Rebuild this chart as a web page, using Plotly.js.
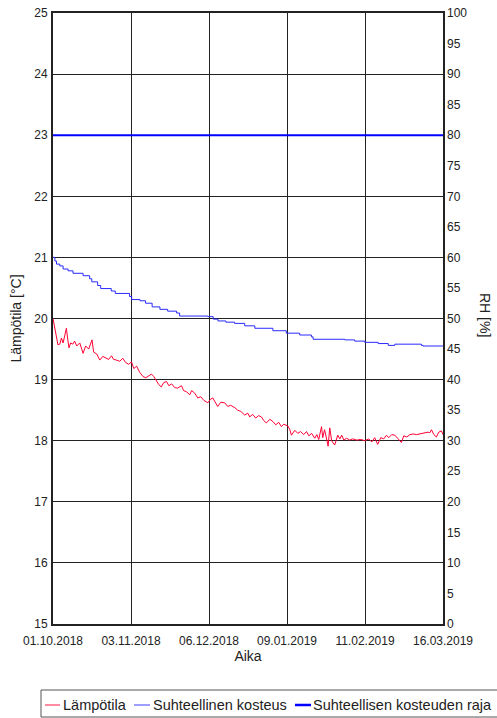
<!DOCTYPE html>
<html>
<head>
<meta charset="utf-8">
<script src="https://cdn.plot.ly/plotly-3.0.1.min.js"></script>
<style>html,body{margin:0;padding:0;background:#fff}#chart{width:497px;height:718px}</style>
</head>
<body>
<div id="chart"></div>
<script>
// ---- data ----
const startDate = '2018-10-01';
const endDate = '2019-03-16';
const xTickLabels = ['01.10.2018','03.11.2018','06.12.2018','09.01.2019','11.02.2019','16.03.2019'];
const seriesNames = ['Lämpötila','Suhteellinen kosteus','Suhteellisen kosteuden raja'];

// temperature: day offset from start, value in °C
const tempDays = [0,1.1,2.1,2.9,3.6,4.3,5.0,5.7,6.3,6.8,7.5,8.4,9.2,10.1,11.4,12.8,13.9,15.2,16.6,17.3,18.6,19.9,21.2,22.4,23.7,24.9,25.8,27.0,28.4,29.7,30.9,32.2,33.4,34.4,35.6,36.9,38.3,39.5,40.7,41.9,42.9,44.1,45.0,46.1,47.1,48.3,49.3,50.5,51.8,53.0,54.7,55.6,56.9,58.2,59.0,60.3,61.6,62.9,64.2,65.9,67.1,68.0,69.3,70.1,71.4,73.1,74.4,75.6,77.4,78.6,79.9,81.6,82.9,83.7,85.0,86.3,87.5,88.7,89.7,90.8,92.3,93.7,94.8,96.1,97.2,98.2,100.0,100.8,101.5,102.9,104.2,105.4,106.7,107.9,108.9,110.1,111.4,112.3,113.1,114.3,114.8,115.6,117.1,117.8,118.6,119.9,121.2,122.1,122.9,123.8,125.0,126.3,127.6,129.3,131.0,132.7,134.4,135.7,136.9,138.2,139.5,140.8,141.9,142.9,144.2,145.5,146.7,148.3,149.3,150.6,151.9,153.3,154.8,156.5,158.2,159.6,160.4,161.1,162.1,163.2,164.2,165.3,166.0];
const tempValues = [20.00,19.75,19.57,19.58,19.68,19.60,19.72,19.84,19.65,19.52,19.60,19.58,19.63,19.55,19.60,19.43,19.55,19.50,19.65,19.45,19.42,19.32,19.38,19.36,19.33,19.39,19.33,19.32,19.30,19.35,19.28,19.25,19.29,19.18,19.22,19.12,19.05,19.03,19.06,19.09,19.05,18.97,18.92,18.88,18.95,18.97,18.90,18.93,18.87,18.86,18.90,18.82,18.80,18.75,18.82,18.78,18.70,18.72,18.66,18.62,18.68,18.70,18.62,18.56,18.63,18.62,18.56,18.58,18.54,18.50,18.48,18.42,18.45,18.39,18.43,18.37,18.41,18.39,18.33,18.29,18.35,18.31,18.26,18.30,18.23,18.27,18.24,18.18,18.09,18.17,18.12,18.15,18.10,18.15,18.08,18.12,18.04,18.10,18.02,18.23,18.05,18.18,17.91,18.21,18.00,17.93,18.09,18.03,18.09,18.01,18.04,18.01,18.03,18.01,18.02,18.00,18.03,17.98,18.05,17.94,18.05,18.03,18.09,18.05,18.10,18.09,18.04,17.97,18.08,18.06,18.10,18.11,18.10,18.11,18.12,18.14,18.13,18.18,18.10,18.06,18.14,18.16,18.10];

// relative humidity (stepped), day offset and %
const rhDays = [0,0.8,1.5,2.9,4.3,6.4,8.5,12.8,15.6,16.5,19.0,20.3,24.8,26.5,32.6,33.5,37.0,39.4,42.2,45.5,48.8,52.6,53.9,65.9,68.2,70.2,73.6,77.3,81.6,85.9,93.6,99.3,105.0,110.0,110.7,124.2,128.4,132.7,138.4,142.7,145.5,156.8,157.5,166.0];
const rhValues = [60.0,59.4,58.9,58.6,58.1,57.8,57.4,57.0,56.5,56.0,55.4,54.9,54.5,54.1,53.6,53.1,52.9,52.5,51.9,51.5,51.2,50.9,50.4,50.3,49.9,49.6,49.4,49.2,48.8,48.4,48.0,47.6,47.3,47.0,46.6,46.5,46.3,46.1,45.9,45.6,45.8,45.6,45.5,45.5];

// humidity limit
const limitDays = [0,166];
const limitValues = [80,80];

// ---- helpers ----
const DAY = 86400000;
const t0 = Date.parse(startDate + 'T00:00:00Z');
const t1 = Date.parse(endDate + 'T00:00:00Z');
const toDate = d => new Date(t0 + d * DAY).toISOString().replace('T',' ').slice(0,19);
const tickVals = xTickLabels.map((_, i) => new Date(t0 + i * (t1 - t0) / (xTickLabels.length - 1)).toISOString().replace('T',' ').slice(0,19));

const W = 497, H = 718, L = 53, R = 443, T = 13, B = 624;
const px = x => (x - L) / (R - L);
const py = y => (B - y) / (B - T);

const colors = ['#ff0033', '#2a2aff', '#0000ff'];
const FONT = 'Liberation Sans, Arial, sans-serif';
const TXT = '#222';

const traces = [
  {x: tempDays.map(toDate), y: tempValues, name: seriesNames[0], type: 'scatter', mode: 'lines',
   line: {color: colors[0], width: 1}, yaxis: 'y'},
  {x: rhDays.map(toDate), y: rhValues, name: seriesNames[1], type: 'scatter', mode: 'lines',
   line: {color: colors[1], width: 1, shape: 'hv'}, yaxis: 'y2'},
  {x: limitDays.map(toDate), y: limitValues, name: seriesNames[2], type: 'scatter', mode: 'lines',
   line: {color: colors[2], width: 2}, yaxis: 'y2'}
];

// custom legend (reference legend box is clipped at the right edge)
const legendY = 705;
const legendItems = [
  {x0: 45, x1: 60, tx: 61, w: 1.5},
  {x0: 134, x1: 150, tx: 151, w: 1.5},
  {x0: 295, x1: 311, tx: 311, w: 2.5}
];
const shapes = [
  {type: 'rect', xref: 'paper', yref: 'paper', x0: px(41), x1: px(520), y0: py(717), y1: py(690),
   line: {color: '#555', width: 1}, fillcolor: 'rgba(0,0,0,0)', layer: 'above'}
];
const annotations = [];
legendItems.forEach((it, i) => {
  shapes.push({type: 'line', xref: 'paper', yref: 'paper', x0: px(it.x0), x1: px(it.x1), y0: py(legendY), y1: py(legendY),
    line: {color: colors[i], width: it.w}, opacity: i === 2 ? 1 : 0.6});
  annotations.push({xref: 'paper', yref: 'paper', x: px(it.tx), y: py(legendY), xanchor: 'left', yanchor: 'middle',
    text: seriesNames[i], showarrow: false, font: {family: FONT, size: 14.5, color: TXT}});
});
annotations.push({xref: 'paper', yref: 'paper', x: px(485), y: py(315), xanchor: 'center', yanchor: 'middle',
  text: 'RH [%]', textangle: 90, showarrow: false, font: {family: FONT, size: 14, color: TXT}});

const layout = {
  width: W, height: H,
  margin: {l: L, r: W - R, t: T, b: H - B, pad: 0},
  paper_bgcolor: '#fff', plot_bgcolor: '#fff',
  font: {family: FONT, size: 12, color: TXT},
  showlegend: false,
  xaxis: {
    type: 'date', range: [toDate(0), toDate((t1 - t0) / DAY)],
    tickmode: 'array', tickvals: tickVals, ticktext: xTickLabels,
    showgrid: true, gridcolor: '#222', gridwidth: 1,
    showline: true, linecolor: '#222', linewidth: 2, mirror: true,
    ticks: '', zeroline: false, ticklabelstandoff: 5,
    tickfont: {family: FONT, size: 12, color: TXT},
    title: {text: 'Aika', font: {family: FONT, size: 14, color: TXT}, standoff: 4}
  },
  yaxis: {
    range: [15, 25], dtick: 1, tick0: 15,
    showgrid: true, gridcolor: '#222', gridwidth: 1,
    showline: true, linecolor: '#222', linewidth: 2, mirror: true,
    ticks: '', zeroline: false, ticklabelstandoff: 1,
    tickfont: {family: FONT, size: 12, color: TXT},
    title: {text: 'Lämpötila [°C]', font: {family: FONT, size: 14, color: TXT}, standoff: 9}
  },
  yaxis2: {
    range: [0, 100], dtick: 5, tick0: 0, overlaying: 'y', side: 'right',
    showgrid: false, showline: false, zeroline: false, ticks: '', ticklabelstandoff: 3,
    tickfont: {family: FONT, size: 12, color: TXT}
  },
  shapes: shapes,
  annotations: annotations
};

Plotly.newPlot('chart', traces, layout, {staticPlot: true, displayModeBar: false});
</script>
</body>
</html>
